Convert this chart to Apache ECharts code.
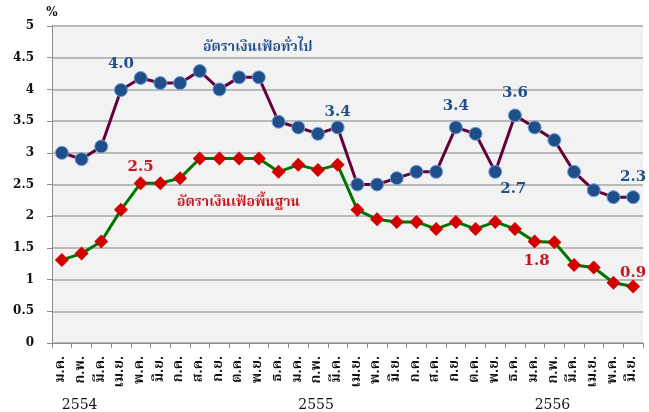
<!DOCTYPE html>
<html><head><meta charset="utf-8">
<script src="https://cdn.jsdelivr.net/npm/echarts@6/dist/echarts.min.js"></script>
<style>html,body{margin:0;padding:0;background:#fff}#c{width:649px;height:412px}</style>
</head><body><div id="c"></div>
<script>
const months = ['ม.ค.','ก.พ.','มี.ค.','เม.ย.','พ.ค.','มิ.ย.','ก.ค.','ส.ค.','ก.ย.','ต.ค.','พ.ย.','ธ.ค.'];
const categories = months.concat(months, months.slice(0, 6));
const yearLabels = ['2554','','','','','','','','','','','','2555','','','','','','','','','','','','2556','','','','',''];
const headline = [3.0,2.9,3.1,3.99,4.18,4.1,4.1,4.29,4.0,4.19,4.19,3.49,3.4,3.3,3.4,2.5,2.5,2.6,2.7,2.7,3.4,3.3,2.7,3.59,3.4,3.2,2.7,2.41,2.3,2.3];
const core = [1.31,1.41,1.6,2.1,2.52,2.52,2.6,2.91,2.91,2.91,2.91,2.7,2.81,2.73,2.81,2.1,1.95,1.91,1.91,1.8,1.91,1.8,1.91,1.8,1.6,1.59,1.23,1.19,0.95,0.89];
const yTicks = [0,0.5,1,1.5,2,2.5,3,3.5,4,4.5,5];
const headlineName = 'อัตราเงินเฟ้อทั่วไป';
const coreName = 'อัตราเงินเฟ้อพื้นฐาน';
// annotated points: index -> [text, position, offset]
const headlineNotes = {3:['4.0','top',[0,-6]],14:['3.4','top',[0,4]],20:['3.4','top',[0,-2]],23:['3.6','top',[0,-3]],22:['2.7','bottom',[18,-2]],29:['2.3','top',[0,-1]]};
const coreNotes = {4:['2.5','top',[0,3]],24:['1.8','bottom',[2,0]],29:['0.9','top',[0,6]]};

const serif = 'DejaVu Serif';
const thai = '"Noto Serif Thai","Noto Sans Thai","Loma","Garuda",sans-serif';
const blue = '#22508c', red = '#c8141e';

function build(vals, notes, color) {
  return vals.map((v, i) => {
    if (!notes[i]) return v;
    const n = notes[i];
    return {value: v, label: {show: true, formatter: n[0], position: n[1], offset: n[2],
      color: color, fontFamily: serif, fontSize: 15, fontWeight: 'bold'}};
  });
}

const chart = echarts.init(document.getElementById('c'), null, {renderer: 'canvas'});
chart.setOption({
  animation: false,
  backgroundColor: '#ffffff',
  grid: {left: 52, right: 6, top: 26, bottom: 64, show: true, backgroundColor: '#f2f2f2', borderWidth: 0},
  xAxis: [{
    type: 'category', data: categories, boundaryGap: true,
    axisLine: {lineStyle: {color: '#8c8c8c', width: 1}},
    axisTick: {show: true, length: 5, lineStyle: {color: '#8c8c8c'}, interval: 0},
    axisLabel: {interval: 0, rotate: 90, margin: 13, fontSize: 14, fontWeight: 'bold', color: '#111', fontFamily: thai}
  }, {
    type: 'category', data: yearLabels, position: 'bottom', offset: 49, boundaryGap: true,
    axisLine: {show: false}, axisTick: {show: false},
    axisLabel: {interval: 0, align: 'left', margin: 6, fontSize: 14, color: '#111', fontFamily: serif}
  }],
  yAxis: {
    type: 'value', min: 0, max: 5, interval: 0.5,
    name: '%', nameLocation: 'end', nameGap: 7,
    nameTextStyle: {fontFamily: serif, fontSize: 12, color: '#111', fontWeight: 'bold', align: 'center'},
    axisLine: {show: true, lineStyle: {color: '#8c8c8c'}},
    axisTick: {show: true, length: 5, lineStyle: {color: '#8c8c8c'}},
    splitLine: {lineStyle: {color: '#a6a6a6', width: 1.5}},
    axisLabel: {margin: 18, fontFamily: serif, fontSize: 12, color: '#111', fontWeight: 'bold',
      formatter: v => { const t = yTicks.find(x => Math.abs(x - v) < 1e-9); return t === undefined ? '' : String(t); }}
  },
  graphic: [
    {type: 'text', left: 203, top: 42, style: {text: headlineName, fill: blue, font: 'bold 14px ' + thai}},
    {type: 'text', left: 177, top: 197, style: {text: coreName, fill: red, font: 'bold 14px ' + thai}}
  ],
  series: [{
    name: headlineName, type: 'line', data: build(headline, headlineNotes, blue),
    symbol: 'circle', symbolSize: 13, z: 3,
    lineStyle: {color: '#66003a', width: 3},
    itemStyle: {color: '#1f4e89', borderColor: '#6fa0dc', borderWidth: 1}
  }, {
    name: coreName, type: 'line', data: build(core, coreNotes, red),
    symbol: 'diamond', symbolSize: 14, z: 2,
    lineStyle: {color: '#007500', width: 3},
    itemStyle: {color: '#d40000'}
  }]
});
</script></body></html>
